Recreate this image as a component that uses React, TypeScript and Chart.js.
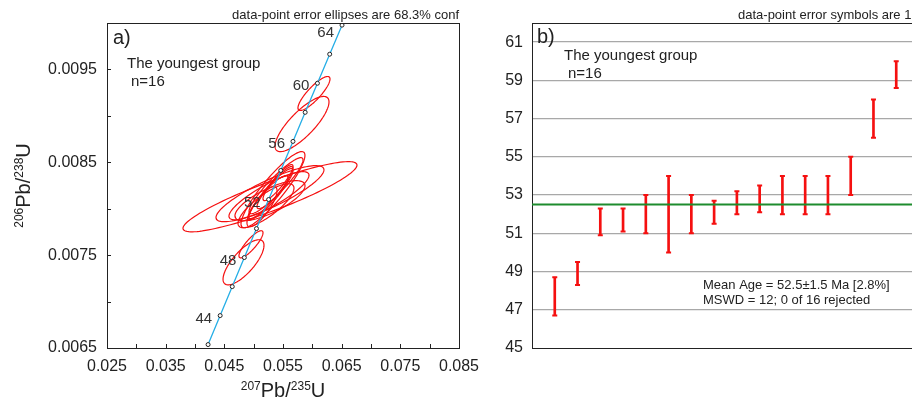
import React, { useEffect, useRef } from 'react';
import { Chart, registerables } from 'chart.js';
Chart.register(...registerables);

const FONT = '"Liberation Sans", Arial, Helvetica, sans-serif';
const TXT = '#222';
const RED = '#f51010';
const CYAN = '#25aee6';
const GREEN = '#1e8c2e';

// ---------- Panel a: concordia ----------
const concAges = [42, 44, 46, 48, 50, 52, 54, 56, 58, 60, 62, 64];
const conc207_235 = [0.04223, 0.04429, 0.04635, 0.04841, 0.05048, 0.05255, 0.05462, 0.0567, 0.05878, 0.06087, 0.06296, 0.06506];
const conc206_238 = [0.006537, 0.006849, 0.007161, 0.007474, 0.007786, 0.008099, 0.008412, 0.008725, 0.009038, 0.009351, 0.009664, 0.009977];
const labelledAges = [44, 48, 52, 56, 60, 64];

// error ellipses: centre, half-extents, correlation
const ellX = [0.06028, 0.05824, 0.04954, 0.04827, 0.05278, 0.05278, 0.05329, 0.05381, 0.05295, 0.05244, 0.05278, 0.0521, 0.05364, 0.05142, 0.05415, 0.05261];
const ellY = [0.009241, 0.008912, 0.007617, 0.007423, 0.008129, 0.008162, 0.008205, 0.008248, 0.008173, 0.008119, 0.008086, 0.008032, 0.008216, 0.008022, 0.008281, 0.00814];
const ellSX = [0.00273, 0.0046, 0.00205, 0.00349, 0.01483, 0.0092, 0.00545, 0.0046, 0.00375, 0.00341, 0.00597, 0.00477, 0.00307, 0.00256, 0.00256, 0.00682];
const ellSY = [0.000183, 0.000297, 0.000146, 0.000243, 0.000378, 0.000302, 0.00041, 0.000302, 0.000281, 0.000237, 0.000216, 0.000237, 0.000216, 0.000216, 0.000194, 0.000259];
const ellRho = [0.85, 0.8, 0.85, 0.75, 0.9, 0.85, 0.9, 0.92, 0.93, 0.9, 0.75, 0.8, 0.9, 0.8, 0.9, 0.85];

const xTickValues = [0.025, 0.03, 0.035, 0.04, 0.045, 0.05, 0.055, 0.06, 0.065, 0.07, 0.075, 0.08, 0.085];
const xTickLabels = ['0.025', '', '0.035', '', '0.045', '', '0.055', '', '0.065', '', '0.075', '', '0.085'];
const yTickValues = [0.0065, 0.007, 0.0075, 0.008, 0.0085, 0.009, 0.0095, 0.01];
const yTickLabels = ['0.0065', '', '0.0075', '', '0.0085', '', '0.0095', ''];

// ---------- Panel b: weighted mean ----------
const grainLow = [46.7, 48.3, 50.9, 51.1, 51.0, 50.0, 51.0, 51.5, 52.0, 52.1, 52.0, 52.0, 52.0, 53.0, 56.0, 58.6];
const grainHigh = [48.7, 49.5, 52.3, 52.3, 53.0, 54.0, 53.0, 52.7, 53.2, 53.5, 54.0, 54.0, 54.0, 55.0, 58.0, 60.0];
const meanAge = 52.5;
const ageTicks = [45, 47, 49, 51, 53, 55, 57, 59, 61];

function drawSup(ctx: CanvasRenderingContext2D, parts: [string, boolean][], cx: number, baseline: number) {
  const big = 20, small = 12, raise = 7;
  let total = 0;
  parts.forEach(([t, sup]) => {
    ctx.font = `${sup ? small : big}px ${FONT}`;
    total += ctx.measureText(t).width;
  });
  let x = cx - total / 2;
  ctx.textAlign = 'left';
  ctx.textBaseline = 'alphabetic';
  parts.forEach(([t, sup]) => {
    ctx.font = `${sup ? small : big}px ${FONT}`;
    ctx.fillText(t, x, sup ? baseline - raise : baseline);
    x += ctx.measureText(t).width;
  });
}

const pluginA = {
  id: 'panelA',
  beforeDatasetsDraw(chart: any) {
    const { ctx, chartArea: ca, scales } = chart;
    const xs = scales.x, ys = scales.y;
    ctx.save();
    ctx.beginPath();
    ctx.rect(ca.left, ca.top, ca.right - ca.left, ca.bottom - ca.top);
    ctx.clip();
    ctx.strokeStyle = RED;
    ctx.lineWidth = 1.2;
    for (let i = 0; i < ellX.length; i++) {
      const r = ellRho[i];
      const q = Math.sqrt(1 - r * r);
      ctx.beginPath();
      for (let k = 0; k <= 120; k++) {
        const t = (k / 120) * Math.PI * 2;
        const dx = ellX[i] + ellSX[i] * Math.cos(t);
        const dy = ellY[i] + ellSY[i] * (r * Math.cos(t) + q * Math.sin(t));
        const px = xs.getPixelForValue(dx);
        const py = ys.getPixelForValue(dy);
        if (k === 0) ctx.moveTo(px, py); else ctx.lineTo(px, py);
      }
      ctx.closePath();
      ctx.stroke();
    }
    ctx.restore();
  },
  afterDatasetsDraw(chart: any) {
    const { ctx, chartArea: ca, scales } = chart;
    const xs = scales.x, ys = scales.y;
    ctx.save();
    ctx.strokeStyle = TXT;
    ctx.lineWidth = 1;
    ctx.strokeRect(Math.round(ca.left) + 0.5, Math.round(ca.top) + 0.5, Math.round(ca.right - ca.left), Math.round(ca.bottom - ca.top));
    ctx.beginPath();
    xTickValues.forEach((v) => {
      const px = Math.round(xs.getPixelForValue(v)) + 0.5;
      ctx.moveTo(px, ca.bottom);
      ctx.lineTo(px, ca.bottom - 4);
    });
    yTickValues.forEach((v) => {
      const py = Math.round(ys.getPixelForValue(v)) + 0.5;
      ctx.moveTo(ca.left, py);
      ctx.lineTo(ca.left + 4, py);
    });
    ctx.stroke();

    // age labels on concordia
    ctx.fillStyle = '#333';
    ctx.font = `15px ${FONT}`;
    ctx.textAlign = 'right';
    ctx.textBaseline = 'alphabetic';
    labelledAges.forEach((age) => {
      const i = concAges.indexOf(age);
      const px = xs.getPixelForValue(conc207_235[i]);
      const py = ys.getPixelForValue(conc206_238[i]);
      const off = py - 12 < ca.top ? 12 : 7;
      ctx.fillText(String(age), px - 8, py + off);
    });

    ctx.fillStyle = TXT;
    ctx.textAlign = 'left';
    ctx.font = `20px ${FONT}`;
    ctx.fillText('a)', ca.left + 6, ca.top + 21);
    ctx.font = `15px ${FONT}`;
    ctx.fillText('The youngest group', ca.left + 20, ca.top + 45);
    ctx.fillText('n=16', ca.left + 24, ca.top + 63);
    ctx.font = `13px ${FONT}`;
    ctx.textAlign = 'right';
    ctx.fillText('data-point error ellipses are 68.3% conf', ca.right, ca.top - 4);

    // axis titles
    drawSup(ctx, [['207', true], ['Pb/', false], ['235', true], ['U', false]], (ca.left + ca.right) / 2, 397);
    ctx.save();
    ctx.translate(30, (ca.top + ca.bottom) / 2);
    ctx.rotate(-Math.PI / 2);
    drawSup(ctx, [['206', true], ['Pb/', false], ['238', true], ['U', false]], 0, 0);
    ctx.restore();
    ctx.restore();
  },
};

const pluginB = {
  id: 'panelB',
  afterDatasetsDraw(chart: any) {
    const { ctx, chartArea: ca, scales } = chart;
    const xs = scales.x, ys = scales.y;
    ctx.save();
    // caps
    ctx.strokeStyle = RED;
    ctx.lineWidth = 2;
    ctx.beginPath();
    grainLow.forEach((lo, i) => {
      const px = xs.getPixelForValue(i + 1);
      [lo, grainHigh[i]].forEach((v) => {
        const py = ys.getPixelForValue(v);
        ctx.moveTo(px - 2.5, py);
        ctx.lineTo(px + 2.5, py);
      });
    });
    ctx.stroke();
    // mean line
    const my = ys.getPixelForValue(meanAge);
    ctx.strokeStyle = GREEN;
    ctx.lineWidth = 2;
    ctx.beginPath();
    ctx.moveTo(ca.left, my);
    ctx.lineTo(ca.right, my);
    ctx.stroke();
    // top border
    ctx.strokeStyle = TXT;
    ctx.lineWidth = 1;
    ctx.beginPath();
    ctx.moveTo(ca.left, Math.round(ca.top) + 0.5);
    ctx.lineTo(ca.right, Math.round(ca.top) + 0.5);
    ctx.stroke();

    ctx.fillStyle = TXT;
    ctx.textAlign = 'left';
    ctx.textBaseline = 'alphabetic';
    ctx.font = `20px ${FONT}`;
    ctx.fillText('b)', ca.left + 5, ca.top + 20);
    ctx.font = `15px ${FONT}`;
    ctx.fillText('The youngest group', ca.left + 32, ca.top + 37);
    ctx.fillText('n=16', ca.left + 36, ca.top + 55);
    ctx.font = `13px ${FONT}`;
    ctx.fillText('Mean Age = 52.5\u00b11.5 Ma [2.8%]', ca.left + 171, 289);
    ctx.fillText('MSWD = 12; 0 of 16 rejected', ca.left + 171, 304);
    ctx.fillText('data-point error symbols are 1\u03c3', ca.left + 206, ca.top - 4);
    ctx.restore();
  },
};

export default function App() {
  const refA = useRef<HTMLCanvasElement>(null);
  const refB = useRef<HTMLCanvasElement>(null);

  useEffect(() => {
    const tickFont = { family: FONT, size: 16 };
    const chartA = new Chart(refA.current as HTMLCanvasElement, {
      type: 'scatter',
      data: {
        datasets: [
          {
            data: conc207_235.map((x, i) => ({ x, y: conc206_238[i] })),
            showLine: true,
            borderColor: CYAN,
            borderWidth: 1.3,
            pointRadius: 2,
            pointBorderColor: '#222',
            pointBackgroundColor: '#fff',
            pointBorderWidth: 1,
          },
        ],
      },
      options: {
        responsive: false,
        animation: false,
        devicePixelRatio: 1,
        events: [],
        layout: { padding: { top: 23, right: 31, left: 0, bottom: 0 } },
        plugins: { legend: { display: false }, tooltip: { enabled: false } },
        scales: {
          x: {
            type: 'linear',
            min: 0.025,
            max: 0.085,
            afterBuildTicks: (s: any) => { s.ticks = xTickValues.map((v) => ({ value: v })); },
            afterFit: (s: any) => { s.height = 52; },
            grid: { display: false, drawTicks: false },
            border: { display: false },
            ticks: {
              autoSkip: false,
              maxRotation: 0,
              padding: 9,
              color: TXT,
              font: tickFont,
              callback: (_v: any, i: number) => xTickLabels[i],
            },
          },
          y: {
            type: 'linear',
            min: 0.0065,
            max: 0.01,
            afterBuildTicks: (s: any) => { s.ticks = yTickValues.map((v) => ({ value: v })); },
            afterFit: (s: any) => { s.width = 107; },
            grid: { display: false, drawTicks: false },
            border: { display: false },
            ticks: {
              autoSkip: false,
              padding: 10,
              color: TXT,
              font: tickFont,
              callback: (_v: any, i: number) => yTickLabels[i],
            },
          },
        },
      } as any,
      plugins: [pluginA],
    });

    const labels = Array.from({ length: 18 }, (_, i) => String(i));
    const chartB = new Chart(refB.current as HTMLCanvasElement, {
      type: 'bar',
      data: {
        labels,
        datasets: [
          {
            data: [null, ...grainLow.map((lo, i) => [lo, grainHigh[i]]), null] as any,
            backgroundColor: RED,
            borderWidth: 0,
            barThickness: 2,
          },
        ],
      },
      options: {
        responsive: false,
        animation: false,
        devicePixelRatio: 1,
        events: [],
        layout: { padding: { top: 23, right: 11, left: 0, bottom: 0 } },
        plugins: { legend: { display: false }, tooltip: { enabled: false } },
        scales: {
          x: {
            type: 'category',
            offset: false,
            afterFit: (s: any) => { s.height = 52; },
            grid: { display: false, drawTicks: false },
            border: { display: true, color: TXT, width: 1 },
            ticks: { display: false },
          },
          y: {
            type: 'linear',
            min: 45,
            max: 62,
            afterBuildTicks: (s: any) => { s.ticks = ageTicks.map((v) => ({ value: v })); },
            afterFit: (s: any) => { s.width = 62; },
            grid: {
              drawTicks: false,
              lineWidth: 1.3,
              color: (c: any) => (c.tick && c.tick.value === 45 ? 'rgba(0,0,0,0)' : '#a8a8a8'),
            },
            border: { display: true, color: TXT, width: 1 },
            ticks: { autoSkip: false, padding: 9, color: TXT, font: tickFont },
          },
        },
      } as any,
      plugins: [pluginB],
    });

    return () => {
      chartA.destroy();
      chartB.destroy();
    };
  }, []);

  return (
    <div style={{ position: 'fixed', left: 0, top: 0, width: 912, height: 400, overflow: 'hidden', background: '#fff' }}>
      <canvas ref={refA} width={490} height={400} style={{ position: 'absolute', left: 0, top: 0, width: 490, height: 400 }} />
      <canvas ref={refB} width={460} height={400} style={{ position: 'absolute', left: 470, top: 0, width: 460, height: 400 }} />
    </div>
  );
}
